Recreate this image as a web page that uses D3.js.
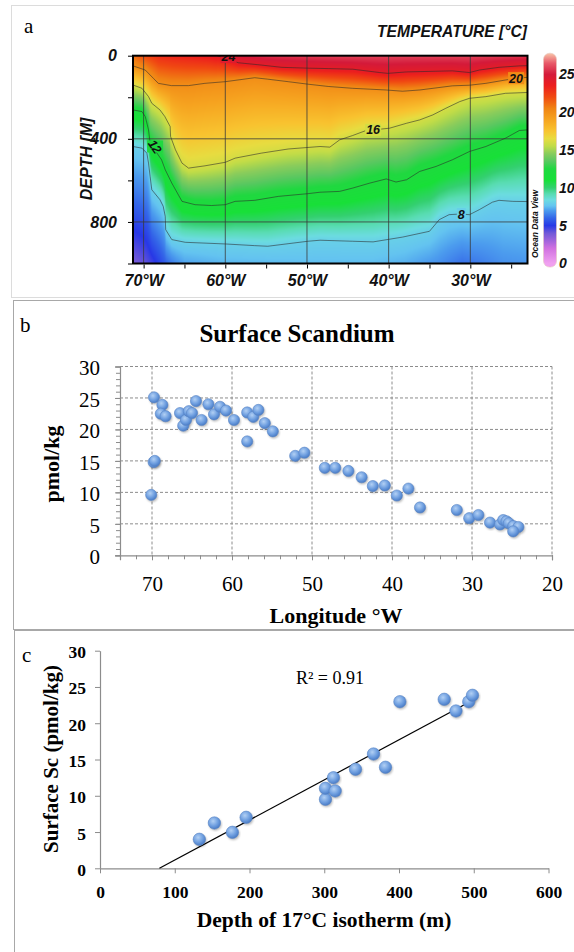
<!DOCTYPE html>
<html>
<head>
<meta charset="utf-8">
<script src="https://cdn.jsdelivr.net/npm/d3@7"></script>
<style>
  body { margin: 0; background: #fff; }
  svg { display: block; }
  .serif { font-family: "Liberation Serif", "Times New Roman", serif; }
  .odv { font-family: "Liberation Sans Narrow", "Arial Narrow", "Liberation Sans", Arial, sans-serif;
         font-weight: bold; font-style: italic; }
</style>
</head>
<body>
<svg id="fig" width="574" height="952"></svg>
<script>
// ---------- panel a: temperature section (isotherm depths in m, west -> east) ----------
var iso24Lon   = [61.0, 60.0, 58.4, 55.6, 53.1, 49.9, 47.4, 44.4, 41.1, 40.1, 37.8, 32.2, 30.1, 28.9, 26.5, 24.0, 23.0];
var iso24Depth = [0, 12, 34, 45, 56, 60, 62, 65, 81, 85, 78, 73, 81, 69, 56, 49, 48];

var iso20Lon   = [71.3, 69.8, 68.8, 68.2, 66.6, 64.5, 62.5, 60.0, 56.4, 54.8, 52.3, 49.9, 47.4, 44.4, 40.3, 38.3, 36.2, 32.2, 30.1, 28.1, 25.7, 24.4, 23.0];
var iso20Depth = [49, 69, 109, 133, 144, 144, 133, 125, 106, 113, 125, 137, 148, 157, 165, 171, 165, 145, 142, 133, 117, 109, 104];

var iso16Lon   = [71.3, 70.2, 69.4, 69.0, 68.0, 67.4, 66.75, 66.7, 66.1, 65.3, 64.5, 62.5, 60.0, 58.8, 55.6, 52.3, 48.4, 47.2, 46.0, 44.4, 42.7, 40.9, 39.9, 37.8, 36.2, 34.6, 33.0, 31.3, 30.1, 28.1, 25.7, 23.0];
var iso16Depth = [141, 157, 197, 229, 261, 293, 341, 389, 453, 517, 541, 530, 513, 493, 469, 449, 437, 440, 405, 384, 359, 353, 349, 325, 309, 285, 253, 221, 205, 197, 181, 177];

var iso12Lon   = [71.3, 70.2, 69.8, 69.4, 69.2, 67.8, 67.35, 66.55, 65.3, 63.7, 61.7, 60.0, 58.8, 56.4, 53.5, 49.9, 48.4, 46.0, 44.4, 42.3, 40.3, 39.1, 37.8, 36.2, 34.2, 32.2, 30.1, 28.1, 25.7, 24.0, 23.0];
var iso12Depth = [261, 269, 293, 357, 421, 501, 549, 613, 701, 717, 721, 717, 701, 696, 677, 664, 657, 653, 637, 613, 593, 608, 597, 557, 533, 501, 461, 437, 397, 360, 357];

var iso8Lon   = [71.3, 70.2, 69.6, 69.4, 69.2, 69.0, 68.0, 67.6, 67.35, 67.3, 66.55, 64.9, 60.0, 56.4, 54.8, 49.9, 48.4, 44.4, 41.9, 38.3, 35.0, 33.8, 32.6, 31.3, 30.1, 28.9, 27.3, 26.5, 24.8, 23.0];
var iso8Depth = [437, 445, 469, 517, 581, 645, 693, 725, 773, 837, 885, 898, 906, 914, 917, 893, 888, 893, 896, 873, 845, 789, 765, 762, 765, 741, 705, 696, 701, 702];

var surfLon  = [71.3, 70, 68, 66, 64, 62, 61, 58, 55, 50, 45, 40, 35, 30, 26, 23.0];
var surfTemp = [21.0, 22.0, 23.0, 23.3, 23.5, 23.8, 24.1, 25.0, 25.5, 25.8, 26, 26, 26, 26, 25.8, 25.6];

var bottomLon  = [71.3, 70, 69, 68, 67, 66, 65, 60, 50, 42, 38, 34, 31, 29, 26, 23.0];
var bottomTemp = [3.8, 4.1, 4.6, 5.3, 6.1, 6.7, 7.1, 7.4, 7.5, 7.5, 7.3, 6.8, 6.2, 6.4, 6.8, 6.9];

var contourLabels = [[59.6, 6, "24"], [24.4, 108, "20"], [41.9, 357, "16"], [68.6, 437, "12"], [31.1, 762, "8"]];

var tempStops  = [0, 2, 4, 5, 6, 7, 7.6, 8.4, 9.2, 10, 11, 12.5, 13.5, 14.5, 15.5, 16.5, 17.5, 19, 20.5, 22, 23.5, 25, 26.5, 28];
var tempColors = ["#f0a0f0", "#d070e0", "#7058d8", "#2838e6", "#3466e8", "#4c9cee", "#64c4f0", "#6cdce0", "#58dcb0",
                  "#34d070", "#18e038", "#20d840", "#58c860", "#88cc5c", "#c0dc48", "#e8dc40", "#f8c430",
                  "#f6a420", "#f08414", "#f04a12", "#ec1e1e", "#d41a3a", "#e85a6a", "#f8c4a8"];

var lonTicksA   = [70, 65, 60, 55, 50, 45, 40, 35, 30, 25];
var depthTicksA = [0, 200, 400, 600, 800, 1000];
var legendTicks = [0, 5, 10, 15, 20, 25];

// ---------- panel b: surface scandium vs longitude ----------
var scLon = [69.75, 68.7, 68.9, 68.3, 69.8, 69.65, 70.1, 66.5, 66.1, 65.75, 65.4, 65.0, 64.5, 63.8, 62.95, 62.25,
             61.5, 60.75, 59.75, 58.1, 57.35, 56.7, 55.9, 54.9, 58.1, 52.1, 50.95, 48.4, 47.1, 45.45, 43.8, 42.4,
             40.9, 39.4, 37.95, 36.5, 31.9, 30.35, 29.2, 27.75, 26.5, 26.1, 25.7, 25.4, 24.85, 24.2, 24.85];
var scVal = [25.1, 23.9, 22.5, 22.1, 14.8, 15.0, 9.6, 22.6, 20.6, 21.5, 22.9, 22.6, 24.5, 21.5, 24.0, 22.4,
             23.6, 23.0, 21.5, 22.7, 22.0, 23.1, 21.0, 19.7, 18.1, 15.8, 16.3, 13.9, 13.9, 13.4, 12.4, 11.0,
             11.1, 9.5, 10.6, 7.6, 7.2, 5.9, 6.4, 5.2, 4.9, 5.6, 5.4, 5.1, 4.65, 4.5, 3.8];
var lonTicksB = [70, 60, 50, 40, 30, 20];
var scTicks   = [0, 5, 10, 15, 20, 25, 30];

// ---------- panel c: surface Sc vs depth of 17 C isotherm ----------
var iso17Depth = [132.9, 153, 177.1, 195.5, 301.6, 301.6, 312.3, 314.6, 341.8, 365.9, 381.9, 401.2, 460.5, 476.2, 493.3, 498.3];
var surfSc     = [4.0, 6.25, 4.96, 7.03, 9.51, 11.03, 12.49, 10.66, 13.65, 15.76, 13.93, 22.97, 23.3, 21.69, 22.97, 23.85];
var depthTicksC = [0, 100, 200, 300, 400, 500, 600];
var trendX = [79.5, 498];
var trendSlope = 0.0553, trendIntercept = -4.40;

var isotherms = [
  {t: 24, lon: iso24Lon, depth: iso24Depth},
  {t: 20, lon: iso20Lon, depth: iso20Depth},
  {t: 16, lon: iso16Lon, depth: iso16Depth},
  {t: 12, lon: iso12Lon, depth: iso12Depth},
  {t: 8,  lon: iso8Lon,  depth: iso8Depth}
];

var svg = d3.select("#fig");
var defs = svg.append("defs");

// panel frames
svg.append("rect").attr("x", 11.5).attr("y", 5.5).attr("width", 570).attr("height", 292)
   .attr("fill", "none").attr("stroke", "#dcdcdc");
svg.append("rect").attr("x", 13.5).attr("y", 300.5).attr("width", 570).attr("height", 329)
   .attr("fill", "none").attr("stroke", "#a8a8a8");
svg.append("rect").attr("x", 14.5).attr("y", 630.5).attr("width", 570).attr("height", 330)
   .attr("fill", "none").attr("stroke", "#a8a8a8");

// ===================== panel a =====================
var xA = d3.scaleLinear().domain([71.3, 23.0]).range([133, 527.5]);
var yA = d3.scaleLinear().domain([0, 1000]).range([55.7, 263.5]);
var tempColor = d3.scaleLinear().domain(tempStops).range(tempColors).clamp(true);

function lineAt(lons, vals, L) {
  if (L > lons[0] || L < lons[lons.length - 1]) return null;
  for (var i = 0; i < lons.length - 1; i++) {
    if (L <= lons[i] && L >= lons[i + 1]) {
      var t = lons[i] == lons[i + 1] ? 0 : (lons[i] - L) / (lons[i] - lons[i + 1]);
      return vals[i] + t * (vals[i + 1] - vals[i]);
    }
  }
  return null;
}

function tempAt(L, d) {
  var knots = [[0, lineAt(surfLon, surfTemp, L)]];
  isotherms.forEach(function(iso) {
    var dd = lineAt(iso.lon, iso.depth, L);
    if (dd != null && dd > knots[knots.length - 1][0]) knots.push([dd, iso.t]);
  });
  knots.push([1000, lineAt(bottomLon, bottomTemp, L)]);
  for (var k = 0; k < knots.length - 1; k++) {
    if (d <= knots[k + 1][0]) {
      var f = (d - knots[k][0]) / (knots[k + 1][0] - knots[k][0]);
      return knots[k][1] + f * (knots[k + 1][1] - knots[k][1]);
    }
  }
  return knots[knots.length - 1][1];
}

// field raster
var x0 = xA.range()[0], x1 = xA.range()[1], y0 = yA.range()[0], y1 = yA.range()[1];
var cw = Math.round(x1 - x0), ch = Math.round(y1 - y0);
var canvas = document.createElement("canvas");
canvas.width = cw; canvas.height = ch;
var ctx = canvas.getContext("2d");
var img = ctx.createImageData(cw, ch);
for (var i = 0; i < cw; i++) {
  var L = xA.invert(x0 + i + 0.5);
  for (var j = 0; j < ch; j++) {
    var c = d3.rgb(tempColor(tempAt(L, yA.invert(y0 + j + 0.5))));
    var p = (j * cw + i) * 4;
    img.data[p] = c.r; img.data[p + 1] = c.g; img.data[p + 2] = c.b; img.data[p + 3] = 255;
  }
}
ctx.putImageData(img, 0, 0);

defs.append("clipPath").attr("id", "clipA").append("rect")
    .attr("x", x0).attr("y", y0).attr("width", x1 - x0).attr("height", y1 - y0);

var gA = svg.append("g");
gA.append("image").attr("x", x0).attr("y", y0).attr("width", cw).attr("height", ch)
  .attr("preserveAspectRatio", "none").attr("href", canvas.toDataURL());

// grid
var gridA = gA.append("g").attr("stroke", "#3a3a3a").attr("stroke-width", 0.8);
gridA.selectAll("line.v").data([70, 60, 50, 40, 30]).enter().append("line")
  .attr("x1", function(d) { return xA(d); }).attr("x2", function(d) { return xA(d); })
  .attr("y1", y0).attr("y2", y1);
gridA.selectAll("line.h").data([400, 800]).enter().append("line")
  .attr("x1", x0).attr("x2", x1)
  .attr("y1", function(d) { return yA(d); }).attr("y2", function(d) { return yA(d); });

// contours
var contourLine = d3.line().x(function(d) { return xA(d[0]); }).y(function(d) { return yA(d[1]); });
gA.append("g").attr("clip-path", "url(#clipA)")
  .selectAll("path").data(isotherms).enter().append("path")
  .attr("d", function(iso) { return contourLine(d3.zip(iso.lon, iso.depth)); })
  .attr("fill", "none").attr("stroke", "#2a2a2a").attr("stroke-width", 0.7).attr("stroke-opacity", 0.8);

var lab = gA.append("g").attr("clip-path", "url(#clipA)");
contourLabels.forEach(function(cl) {
  var cx = xA(cl[0]), cy = yA(cl[1]);
  lab.append("rect").attr("x", cx - 3.5 * cl[2].length - 1).attr("y", cy - 6)
     .attr("width", 7 * cl[2].length + 2).attr("height", 12)
     .attr("fill", tempColor(tempAt(cl[0], cl[1])));
  lab.append("text").attr("class", "odv").attr("x", cx).attr("y", cy + 4.5)
     .attr("text-anchor", "middle").attr("font-size", 12.5).attr("fill", "#111")
     .attr("transform", cl[2] == "12" ? "rotate(55," + cx + "," + cy + ")" : null)
     .text(cl[2]);
});

gA.append("rect").attr("x", x0).attr("y", y0).attr("width", x1 - x0).attr("height", y1 - y0)
  .attr("fill", "none").attr("stroke", "#000").attr("stroke-width", 2);

// axes
var axA = gA.append("g").attr("transform", "translate(0," + (y1 + 1) + ")")
  .call(d3.axisBottom(xA).tickValues(lonTicksA).tickSize(4).tickPadding(6)
        .tickFormat(function(d) { return d % 10 == 0 ? d + "°W" : ""; }));
axA.select(".domain").remove();
axA.selectAll("text").attr("class", "odv").attr("font-size", 16).attr("fill", "#111");

var ayA = gA.append("g").attr("transform", "translate(" + (x0 - 1) + ",0)")
  .call(d3.axisLeft(yA).tickValues(depthTicksA).tickSize(4).tickPadding(11)
        .tickFormat(function(d) { return d % 400 == 0 ? d : ""; }));
ayA.select(".domain").remove();
ayA.selectAll("text").attr("class", "odv").attr("font-size", 16).attr("fill", "#111");

gA.append("text").attr("class", "odv").attr("font-size", 16).attr("fill", "#111")
  .attr("text-anchor", "middle").attr("transform", "translate(92,159) rotate(-90)").text("DEPTH [M]");
gA.append("text").attr("class", "odv").attr("font-size", 17).attr("fill", "#111")
  .attr("x", 377).attr("y", 37).attr("textLength", 150).attr("lengthAdjust", "spacingAndGlyphs")
  .text("TEMPERATURE [°C]");
gA.append("text").attr("class", "odv").attr("font-size", 8.5).attr("fill", "#111")
  .attr("text-anchor", "middle").attr("transform", "translate(538,224) rotate(-90)").text("Ocean Data View");
gA.append("text").attr("class", "serif").attr("font-size", 21).attr("x", 24).attr("y", 33).text("a");

// colour bar
var cb = d3.scaleLinear().domain([0, 25]).range([263.3, 74.4]);
var grad = defs.append("linearGradient").attr("id", "cbGrad").attr("x1", 0).attr("y1", 1).attr("x2", 0).attr("y2", 0);
var cbMin = -0.5, cbMax = 27.8;
tempStops.forEach(function(t, k) {
  grad.append("stop").attr("offset", (t - cbMin) / (cbMax - cbMin)).attr("stop-color", tempColors[k]);
});
svg.append("rect").attr("x", 543.5).attr("y", cb(cbMax)).attr("width", 13).attr("height", cb(cbMin) - cb(cbMax))
   .attr("rx", 6).attr("ry", 6).attr("fill", "url(#cbGrad)").attr("stroke", "#e8c8c0").attr("stroke-width", 0.6);
svg.append("g").selectAll("text").data(legendTicks).enter().append("text")
   .attr("class", "odv").attr("font-size", 14).attr("fill", "#111")
   .attr("x", 559).attr("y", function(d) { return cb(d) + 5; }).text(function(d) { return d; });

// ---------- shared marker style ----------
var dg = defs.append("radialGradient").attr("id", "dot").attr("cx", "40%").attr("cy", "35%").attr("r", "65%");
dg.append("stop").attr("offset", "0%").attr("stop-color", "#b2d0f4");
dg.append("stop").attr("offset", "60%").attr("stop-color", "#6f9fe0");
dg.append("stop").attr("offset", "100%").attr("stop-color", "#4a7cc6");
defs.append("filter").attr("id", "blur").append("feGaussianBlur").attr("stdDeviation", 0.9);

function drawDots(g, xs, ys, sx, sy, r) {
  var pts = d3.zip(xs, ys);
  g.append("g").selectAll("circle").data(pts).enter().append("circle")
   .attr("cx", function(d) { return sx(d[0]) + 1; }).attr("cy", function(d) { return sy(d[1]) + 1.5; })
   .attr("r", r).attr("fill", "rgba(0,0,0,0.28)").attr("filter", "url(#blur)");
  g.append("g").selectAll("circle").data(pts).enter().append("circle")
   .attr("cx", function(d) { return sx(d[0]); }).attr("cy", function(d) { return sy(d[1]); })
   .attr("r", r).attr("fill", "url(#dot)").attr("stroke", "#5b87c6").attr("stroke-width", 0.6);
}

// ===================== panel b =====================
var xB = d3.scaleLinear().domain([74, 20]).range([120, 552]);
var yB = d3.scaleLinear().domain([0, 30]).range([555.3, 366.5]);
var gB = svg.append("g");

var gridB = gB.append("g").attr("stroke", "#8c8c8c").attr("stroke-width", 1).attr("stroke-dasharray", "3,2");
gridB.selectAll("line.v").data(lonTicksB).enter().append("line")
  .attr("x1", function(d) { return xB(d); }).attr("x2", function(d) { return xB(d); })
  .attr("y1", yB(30)).attr("y2", yB(0));
gridB.selectAll("line.h").data(scTicks.slice(1)).enter().append("line")
  .attr("x1", xB(74)).attr("x2", xB(20))
  .attr("y1", function(d) { return yB(d); }).attr("y2", function(d) { return yB(d); });

var minorB = gB.append("g").attr("transform", "translate(" + xB(74) + ",0)")
  .call(d3.axisLeft(yB).tickValues(d3.range(0, 31)).tickSize(4).tickFormat(""));
minorB.select(".domain").remove();
var minorBx = gB.append("g").attr("transform", "translate(0," + yB(0) + ")")
  .call(d3.axisBottom(xB).tickValues(d3.range(20, 75, 2)).tickSize(4).tickFormat(""));
minorBx.select(".domain").remove();

var axB = gB.append("g").attr("transform", "translate(0," + yB(0) + ")")
  .call(d3.axisBottom(xB).tickValues(lonTicksB).tickSize(5).tickPadding(16));
var ayB = gB.append("g").attr("transform", "translate(" + xB(74) + ",0)")
  .call(d3.axisLeft(yB).tickValues(scTicks).tickSize(5).tickPadding(15));
gB.selectAll(".tick line").attr("stroke", "#8c8c8c");
gB.selectAll(".domain").attr("stroke", "#8c8c8c").attr("stroke-width", 1.2);
axB.selectAll("text").attr("class", "serif").attr("font-size", 21).attr("fill", "#000");
ayB.selectAll("text").attr("class", "serif").attr("font-size", 21).attr("fill", "#000").attr("dy", "0.4em");

drawDots(gB, scLon, scVal, xB, yB, 5.6);

gB.append("text").attr("class", "serif").attr("font-size", 25).attr("font-weight", "bold")
  .attr("text-anchor", "middle").attr("x", 297).attr("y", 342).text("Surface Scandium");
gB.append("text").attr("class", "serif").attr("font-size", 22).attr("font-weight", "bold")
  .attr("text-anchor", "middle").attr("transform", "translate(59,464) rotate(-90)").text("pmol/kg");
gB.append("text").attr("class", "serif").attr("font-size", 22).attr("font-weight", "bold")
  .attr("text-anchor", "middle").attr("x", 336).attr("y", 623).text("Longitude °W");
gB.append("text").attr("class", "serif").attr("font-size", 21).attr("x", 20).attr("y", 332).text("b");

// ===================== panel c =====================
var xC = d3.scaleLinear().domain([0, 600]).range([100, 548.5]);
var yC = d3.scaleLinear().domain([0, 30]).range([868.3, 650.7]);
var gC = svg.append("g");

var axC = gC.append("g").attr("transform", "translate(0," + yC(0) + ")")
  .call(d3.axisBottom(xC).tickValues(depthTicksC).tickSize(5).tickSizeOuter(0).tickPadding(12));
var ayC = gC.append("g").attr("transform", "translate(" + xC(0) + ",0)")
  .call(d3.axisLeft(yC).tickValues(scTicks).tickSize(5).tickSizeOuter(0).tickPadding(9));
gC.selectAll(".tick line").attr("stroke", "#8c8c8c");
gC.selectAll(".domain").attr("stroke", "#8c8c8c").attr("stroke-width", 1.2);
axC.selectAll("text").attr("class", "serif").attr("font-size", 17.5).attr("font-weight", "bold").attr("fill", "#000");
ayC.selectAll("text").attr("class", "serif").attr("font-size", 17.5).attr("font-weight", "bold").attr("fill", "#000").attr("dy", "0.4em");

gC.append("path")
  .attr("d", d3.line().x(function(d) { return xC(d); })
               .y(function(d) { return yC(trendSlope * d + trendIntercept); })(trendX))
  .attr("fill", "none").attr("stroke", "#000").attr("stroke-width", 1.2);

drawDots(gC, iso17Depth, surfSc, xC, yC, 6.2);

gC.append("text").attr("class", "serif").attr("font-size", 18)
  .attr("text-anchor", "middle").attr("x", 330).attr("y", 684).text("R² = 0.91");
gC.append("text").attr("class", "serif").attr("font-size", 21).attr("font-weight", "bold")
  .attr("text-anchor", "middle").attr("transform", "translate(58,759) rotate(-90)").text("Surface Sc (pmol/kg)");
gC.append("text").attr("class", "serif").attr("font-size", 21.5).attr("font-weight", "bold")
  .attr("text-anchor", "middle").attr("x", 324).attr("y", 927).text("Depth of 17°C isotherm (m)");
gC.append("text").attr("class", "serif").attr("font-size", 21).attr("x", 22).attr("y", 662).text("c");
</script>
</body>
</html>
